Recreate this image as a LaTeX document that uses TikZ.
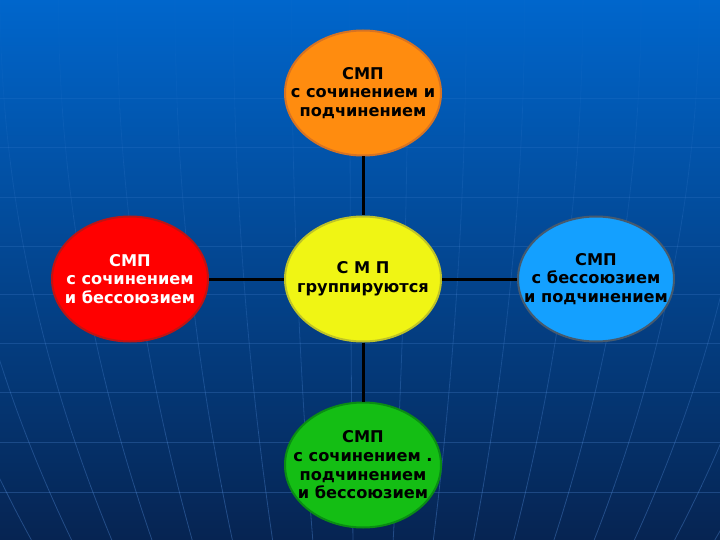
\documentclass[tikz,border=0pt]{standalone}
\usepackage{fontspec}
\setmainfont{DejaVu Sans}
\usetikzlibrary{shapes.geometric}
\definecolor{bgtop}{RGB}{0,102,204}
\definecolor{bgmid}{RGB}{8,72,156}
\definecolor{bgbot}{RGB}{6,36,82}
\definecolor{gridc}{RGB}{90,150,230}
\definecolor{orfill}{RGB}{255,140,15}
\definecolor{ordraw}{RGB}{215,115,35}
\definecolor{rdfill}{RGB}{255,0,0}
\definecolor{rddraw}{RGB}{190,20,20}
\definecolor{yefill}{RGB}{240,245,20}
\definecolor{yedraw}{RGB}{190,195,40}
\definecolor{blfill}{RGB}{20,160,255}
\definecolor{bldraw}{RGB}{70,90,110}
\definecolor{grfill}{RGB}{20,190,20}
\definecolor{grdraw}{RGB}{10,140,20}
\tikzset{
  blob/.style={ellipse, minimum width=156bp, minimum height=125bp, inner sep=0pt,
    line width=2bp},
  lbl/.style={align=center, inner sep=0pt, font=\fontsize{16.2bp}{18.7bp}\selectfont\bfseries},
  link/.style={line width=3bp, black},
  gridline/.style={gridc, line width=0.8bp}
}
\begin{document}
\begin{tikzpicture}[x=1bp,y=-1bp]
\useasboundingbox (0,0) rectangle (720,540);
\shade[top color=bgtop, middle color=bgmid, bottom color=bgbot] (0,0) rectangle (720,540);
\begin{scope}
\clip (0,0) rectangle (720,540);
\foreach \hy in {98,147,197,246,294,343,392,442,492}
  \draw[gridline, opacity={0.08+0.22*\hy/540}] (0,\hy) -- (720,\hy);
\foreach \xa in {-61,-9.5,42,93.5,145,196.5,248,299.5,351,402.5,454,505.5,557,608.5,660,711.5,763,814.5}
  \foreach \k in {0,...,9}
    \draw[gridline, opacity={0.03+0.035*\k}, line cap=round]
      plot[domain={54*\k}:{54*(\k+1)}, samples=6, smooth] ({360+(\xa-360)/0.884*(1-0.31*(\x/540)^2)}, \x);
\end{scope}
\node[blob, fill=orfill, draw=ordraw, label={[lbl]center:СМП\\с сочинением и\\подчинением}] (top) at (363,93) {};
\node[blob, fill=yefill, draw=yedraw, label={[lbl]center:С М П\\группируются}] (mid) at (363,279) {};
\node[blob, fill=rdfill, draw=rddraw, label={[lbl, text=white]center:СМП\\с сочинением\\и бессоюзием}] (left) at (130,279) {};
\node[blob, fill=blfill, draw=bldraw, label={[lbl]center:СМП\\с бессоюзием\\и подчинением}] (right) at (596,279) {};
\node[blob, fill=grfill, draw=grdraw, label={[lbl]center:СМП\\с сочинением .\\подчинением\\и бессоюзием}] (bot) at (363,465) {};
\draw[link] (top) -- (mid);
\draw[link] (mid) -- (bot);
\draw[link] (left) -- (mid);
\draw[link] (mid) -- (right);
\end{tikzpicture}
\end{document}
